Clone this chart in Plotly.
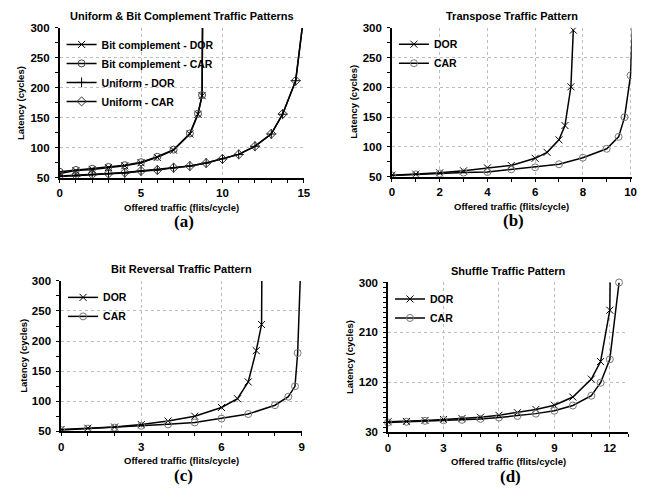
import plotly.graph_objects as go

W, H = 655, 499

# ---------------- data ----------------
# (a) Uniform & Bit Complement
a_bc_x = [0, 1, 2, 3, 4, 5, 6, 7, 8, 8.5, 8.75, 8.8]
a_bc_dor = [57, 62, 64, 67, 70, 75, 84, 96, 123, 156, 187, 400]
a_bc_car = [60, 63, 65, 68, 71, 76, 85, 97, 124, 157, 188, 400]
a_un_x = [0, 1, 2, 3, 4, 5, 6, 7, 8, 9, 10, 11, 12, 13, 13.7, 14.5, 15]
a_un_dor = [52, 53, 55, 56.5, 58, 61, 63, 66.5, 69.5, 74.5, 81.5, 89, 102.5, 123, 156, 212, 322]
a_un_car = [53, 54, 55.5, 57, 58.7, 61.4, 63, 66.8, 69.6, 74.5, 81.5, 89, 102.7, 123.4, 156.5, 212, 322]

# (b) Transpose
b_dor_x = [0, 1, 2, 3, 4, 5, 6, 6.5, 7, 7.25, 7.5, 7.6]
b_dor = [52.7, 54.4, 56.6, 60, 65, 69, 81, 91, 112, 136, 201, 296]
b_car_x = [0, 1, 2, 3, 4, 5, 6, 7, 8, 9, 9.5, 9.75, 10, 10.15]
b_car = [52, 54, 55.5, 57, 58, 62.5, 66, 71, 82, 97, 117, 150, 220, 380]

# (c) Bit Reversal
c_dor_x = [0, 1, 2, 3, 4, 5, 6, 6.6, 7, 7.3, 7.5, 7.52]
c_dor = [53, 55, 57, 61, 67, 75, 89.5, 104, 132, 184, 227.5, 400]
c_car_x = [0, 1, 2, 3, 4, 5, 6, 7, 8, 8.5, 8.75, 8.85, 8.96]
c_car = [52, 54.4, 56, 59, 61.4, 64.6, 71, 78.6, 93.3, 107.4, 124.7, 180, 320]

# (d) Shuffle
d_dor_x = [0, 1, 2, 3, 4, 5, 6, 7, 8, 9, 10, 11, 11.5, 12, 12.05]
d_dor = [48.8, 49.4, 51.1, 52.9, 54.6, 57, 60.5, 65.2, 71.1, 78.7, 93.4, 125.7, 157.4, 250, 400]
d_car_x = [0, 1, 2, 3, 4, 5, 6, 7, 8, 9, 10, 11, 11.5, 12, 12.5]
d_car = [47.6, 48.8, 50.5, 51.7, 52.3, 54, 56.4, 59.3, 63.5, 68.7, 78.1, 95.7, 119.2, 161.5, 300]

titles = ["Uniform & Bit Complement Traffic Patterns", "Transpose Traffic Pattern",
          "Bit Reversal Traffic Pattern", "Shuffle Traffic Pattern"]
panel_labels = ["(a)", "(b)", "(c)", "(d)"]
x_ranges = [[0, 15], [0, 10.05], [0, 9], [0, 13]]
x_dticks = [5, 2, 3, 3]
y_ranges = [[50, 300], [50, 300], [50, 300], [30, 300]]
y_dticks = [50, 50, 50, 90]
y_minor = [25, 25, 25, 9]

# plot-area boxes in pixels (left, right, top, bottom)
boxes = [(57.5, 305.5, 22.5, 176), (395, 638.5, 22.3, 175),
         (59, 303.3, 281.7, 435.7), (391, 635, 283.3, 436.7)]

FONT = "Liberation Sans, Arial, sans-serif"
LINE = dict(color="black", width=1.5)

fig = go.Figure()

def add(x, y, name, sym, idx, legend, mcol="black", size=7, clip=True):
    fig.add_trace(go.Scatter(
        x=x, y=y, name=name, mode="lines+markers",
        line=LINE,
        marker=dict(symbol=sym, size=size, color=mcol, line=dict(color=mcol, width=1)),
        xaxis="x" if idx == 1 else f"x{idx}", yaxis="y" if idx == 1 else f"y{idx}",
        legend=legend, cliponaxis=clip))

add(a_bc_x, a_bc_dor, "Bit complement - DOR", "x-thin-open", 1, "legend")
add(a_bc_x, a_bc_car, "Bit complement - CAR", "circle-open", 1, "legend", mcol="#444")
add(a_un_x, a_un_dor, "Uniform - DOR", "cross-thin-open", 1, "legend")
add(a_un_x, a_un_car, "Uniform - CAR", "diamond-open", 1, "legend", mcol="#333")

add(b_dor_x, b_dor, "DOR", "x-thin-open", 2, "legend2")
add(b_car_x, b_car, "CAR", "circle-open", 2, "legend2", mcol="#777")

add(c_dor_x, c_dor, "DOR", "x-thin-open", 3, "legend3")
add(c_car_x, c_car, "CAR", "circle-open", 3, "legend3", mcol="#777")

add(d_dor_x, d_dor, "DOR", "x-thin-open", 4, "legend4")
add(d_car_x, d_car, "CAR", "circle-open", 4, "legend4", mcol="#777", clip=False)

layout = dict(width=W, height=H, margin=dict(l=0, r=0, t=0, b=0),
              plot_bgcolor="white", paper_bgcolor="white",
              font=dict(family=FONT, color="black"), showlegend=True)

annotations = []
for i in range(4):
    l, r, t, b = boxes[i]
    sx = "" if i == 0 else str(i + 1)
    xd = [l / W, r / W]
    yd = [1 - b / H, 1 - t / H]
    layout["xaxis" + sx] = dict(
        domain=xd, range=x_ranges[i], dtick=x_dticks[i], tick0=0,
        anchor="y" + sx, showline=True, linecolor="black", linewidth=1.5,
        ticks="outside", ticklen=3, tickcolor="black", ticklabelstandoff=1,
        showgrid=True, gridcolor="#bdbdbd", griddash="dot", gridwidth=1,
        zeroline=False, tickfont=dict(size=11.5, family=FONT, weight="bold"),
        minor=dict(dtick=1, ticks="outside", ticklen=3, tickcolor="black", showgrid=False))
    layout["yaxis" + sx] = dict(
        domain=yd, range=y_ranges[i], dtick=y_dticks[i], tick0=y_ranges[i][0],
        anchor="x" + sx, showline=True, linecolor="black", linewidth=1.5,
        ticks="outside", ticklen=3, tickcolor="black", ticklabelstandoff=3,
        showgrid=True, gridcolor="#bdbdbd", griddash="dot", gridwidth=1,
        zeroline=False, tickfont=dict(size=11.5, family=FONT, weight="bold"),
        minor=dict(dtick=y_minor[i], tick0=y_ranges[i][0], ticks="outside", ticklen=3,
                   tickcolor="black", showgrid=False))
    cx = (l + r) / 2
    annotations.append(dict(text=titles[i], x=cx / W, y=1 - (t - 12) / H, xref="paper", yref="paper",
                            showarrow=False, xanchor="center", yanchor="middle",
                            font=dict(size=11, family=FONT, weight="bold")))
    annotations.append(dict(text="Offered traffic (flits/cycle)", x=cx / W, y=1 - (b + 30) / H,
                            xref="paper", yref="paper", showarrow=False,
                            xanchor="center", yanchor="middle",
                            font=dict(size=9.5, family=FONT, weight="bold")))
    annotations.append(dict(text="Latency (cycles)", x=(l - 39) / W, y=1 - ((t + b) / 2) / H,
                            xref="paper", yref="paper", showarrow=False, textangle=-90,
                            xanchor="center", yanchor="middle",
                            font=dict(size=9.5, family=FONT, weight="bold")))
    annotations.append(dict(text=panel_labels[i], x=(cx + 2) / W, y=1 - (b + 45) / H,
                            xref="paper", yref="paper", showarrow=False,
                            xanchor="center", yanchor="middle",
                            font=dict(size=17, family="Liberation Serif, Times New Roman, serif",
                                      weight="bold")))
    leg = "legend" if i == 0 else f"legend{i + 1}"
    layout[leg] = dict(x=(l + 2) / W, y=1 - (t + 2) / H, xanchor="left", yanchor="top",
                       bgcolor="rgba(0,0,0,0)", borderwidth=0, itemwidth=30,
                       font=dict(size=10.5, family=FONT, weight="bold"),
                       tracegroupgap=0)

layout["annotations"] = annotations
fig.update_layout(**layout)
fig.write_html("out.html", config={"displayModeBar": False},
               post_script="document.body.style.margin='0';")
